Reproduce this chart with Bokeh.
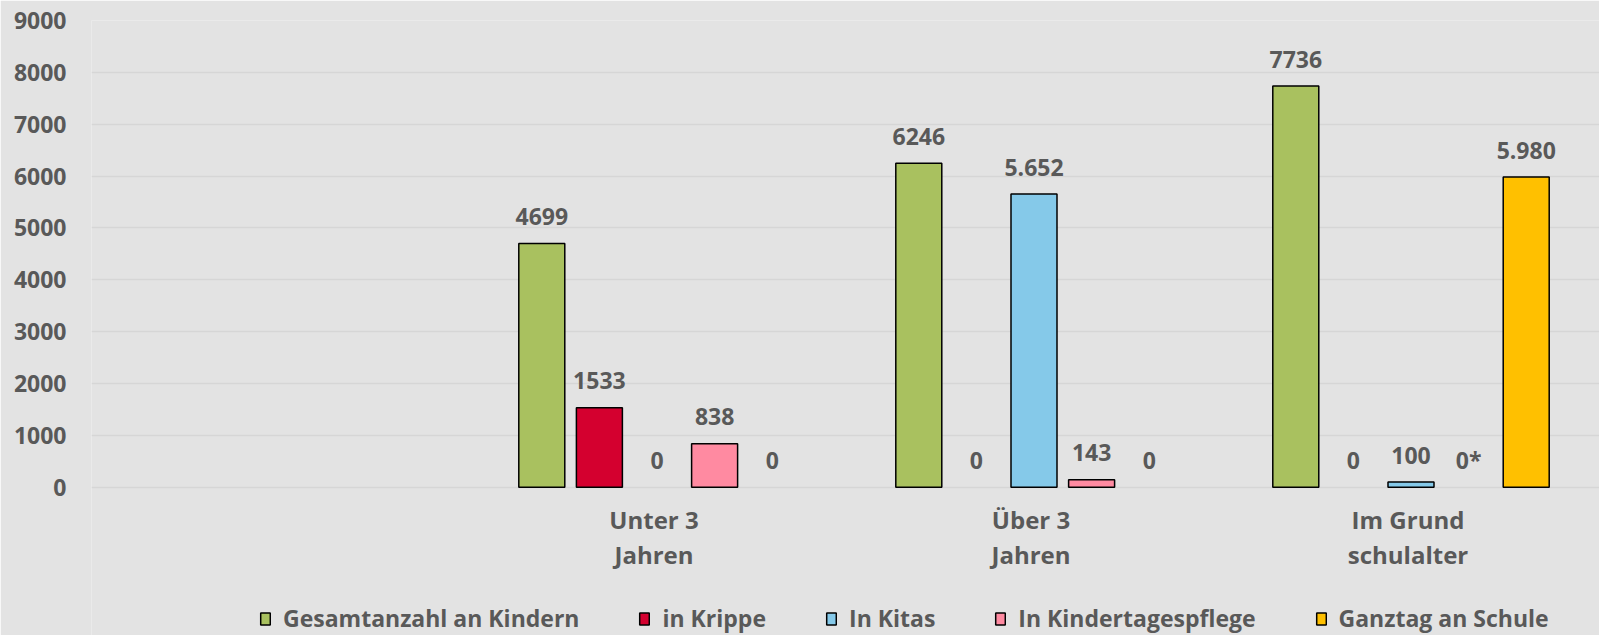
from bokeh.plotting import figure
from bokeh.models import ColumnDataSource, FactorRange, Range1d, Legend, LegendItem, FixedTicker
from bokeh.transform import dodge
from bokeh.core.properties import value
from bokeh.embed import file_html
from bokeh.resources import INLINE

categories = [" ", "Unter 3\nJahren", "Über 3\nJahren", "Im Grund\nschulalter"]
groups = categories[1:]
series_names = ["Gesamtanzahl an Kindern", "in Krippe", "In Kitas", "In Kindertagespflege", "Ganztag an Schule"]
gesamt = [4699, 6246, 7736]
krippe = [1533, 0, 0]
kitas = [0, 5652, 100]
tagespflege = [838, 143, 0]
ganztag = [0, 0, 5980]
labels_gesamt = ["4699", "6246", "7736"]
labels_krippe = ["1533", "0", "0"]
labels_kitas = ["0", "5.652", "100"]
labels_tagespflege = ["838", "143", "0*"]
labels_ganztag = ["0", "0", "5.980"]
colors = ["#A9C15F", "#D4002F", "#85C9E9", "#FF8AA1", "#FFC000"]
y_ticks = [0, 1000, 2000, 3000, 4000, 5000, 6000, 7000, 8000, 9000]

series_values = [gesamt, krippe, kitas, tagespflege, ganztag]
series_labels = [labels_gesamt, labels_krippe, labels_kitas, labels_tagespflege, labels_ganztag]

BG = "#E3E3E3"
TXT = "#595959"
FONT = "Open Sans"

# frame: page y 20 (=9000) .. 635 ; 0 at page y ~486.7
px_per_unit = (486.7 - 20) / 9000
y_bottom = -(635 - 486.7) / px_per_unit

p = figure(x_range=FactorRange(*categories, range_padding=0), y_range=Range1d(y_bottom, 9000),
           width=1599, height=635, output_backend="svg", toolbar_location=None,
           x_axis_location=None,
           min_border_left=91, min_border_right=0, min_border_top=20, min_border_bottom=0)
p.background_fill_color = BG
p.border_fill_color = BG
p.outline_line_color = None

slot = 0.1528
bw = 0.122
items = []
for i, (name, vals, labs, col) in enumerate(zip(series_names, series_values, series_labels, colors)):
    off = (i - 2) * slot
    bx = [g for g, v in zip(groups, vals) if v > 0]
    bv = [v for v in vals if v > 0]
    src = ColumnDataSource(dict(x=bx, top=bv))
    r = p.vbar(x=dodge("x", off, range=p.x_range), top="top", width=bw, source=src,
               fill_color=col, line_color="black", line_width=1.5)
    items.append(LegendItem(label=name, renderers=[r]))
    lsrc = ColumnDataSource(dict(x=groups, y=vals, t=labs))
    p.text(x=dodge("x", off, range=p.x_range), y="y", text="t", source=lsrc,
           text_align="center", text_baseline="alphabetic", y_offset=-27,
           text_font=value(FONT), text_font_style="bold", text_font_size="23px",
           text_color=TXT)

# category labels under the baseline
csrc = ColumnDataSource(dict(x=categories, y=[0] * len(categories), t=categories))
p.text(x="x", y="y", text="t", source=csrc, text_align="center", text_baseline="middle",
       x_offset=-3, y_offset=50, text_line_height=1.07,
       text_font=value(FONT), text_font_style="bold", text_font_size="24px", text_color=TXT)

p.xgrid.grid_line_color = None
p.ygrid.grid_line_color = "#D6D6D6"
p.ygrid.grid_line_width = 1.5
p.yaxis.ticker = FixedTicker(ticks=y_ticks)
p.yaxis.axis_line_color = None
p.yaxis.major_tick_line_color = None
p.yaxis.minor_tick_line_color = None
p.yaxis.major_label_text_font = FONT
p.yaxis.major_label_text_font_style = "bold"
p.yaxis.major_label_text_color = TXT
p.yaxis.major_label_text_font_size = "23px"
p.yaxis.major_label_standoff = 19

legend = Legend(items=items, orientation="horizontal", location=(168, 1),
                label_text_font=FONT, label_text_font_style="bold", label_text_font_size="23px",
                label_text_color=TXT, glyph_width=12, glyph_height=15, label_standoff=12,
                spacing=59, padding=0, margin=0, background_fill_alpha=0, border_line_color=None)
p.add_layout(legend, "center")

open("out.html", "w").write(file_html(p, INLINE))
